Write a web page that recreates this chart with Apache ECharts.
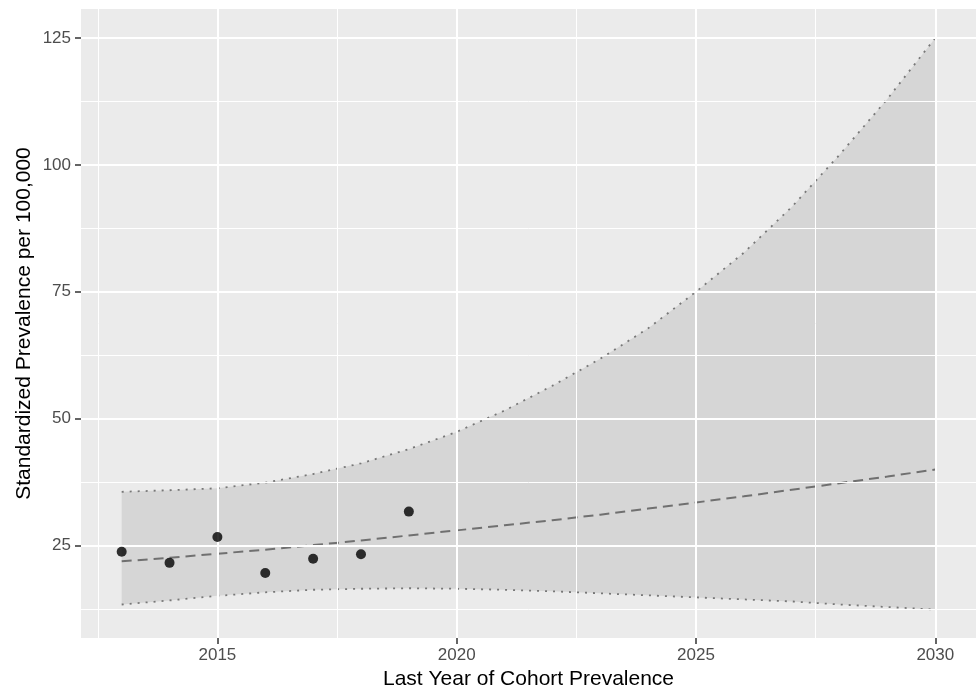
<!DOCTYPE html>
<html>
<head>
<meta charset="utf-8">
<script src="https://cdn.jsdelivr.net/npm/echarts@6/dist/echarts.min.js"></script>
<style>
  html, body { margin: 0; padding: 0; background: #ffffff; }
  #chart { width: 976px; height: 688px; }
</style>
</head>
<body>
<div id="chart"></div>
<script>
// observed cohort prevalence
const obsYears = [2013, 2014, 2015, 2016, 2017, 2018, 2019];
const obsValues = [23.8, 21.6, 26.7, 19.6, 22.4, 23.3, 31.7];

const projYears = [2013, 2014, 2015, 2016, 2017, 2018, 2019, 2020, 2021, 2022, 2023, 2024, 2025, 2026, 2027, 2028, 2029, 2030];
const fitValues = [21.9, 22.6, 23.4, 24.2, 25.1, 26.0, 27.0, 28.0, 29.0, 30.0, 31.1, 32.3, 33.5, 34.7, 36.0, 37.3, 38.6, 40.0];
const upperValues = [35.6, 35.9, 36.3, 37.4, 39.1, 41.2, 44.0, 47.4, 51.6, 56.5, 61.8, 67.8, 75.0, 82.7, 91.7, 102.0, 113.0, 125.0];
const lowerValues = [13.4, 14.2, 15.1, 15.8, 16.3, 16.5, 16.6, 16.5, 16.3, 16.0, 15.6, 15.2, 14.8, 14.4, 14.0, 13.4, 12.9, 12.4];

// ticks / gridlines
const xMajor = [2015, 2020, 2025, 2030];
const xMinor = [2012.5, 2017.5, 2022.5, 2027.5];
const yMajor = [25, 50, 75, 100, 125];
const yMinor = [12.5, 37.5, 62.5, 87.5, 112.5];

const font = "'Liberation Sans', Arial, Helvetica, sans-serif";
const pair = (xs, ys) => xs.map((x, i) => [x, ys[i]]);

const gridLine = (axis, value, width) => ({
  [axis]: value,
  lineStyle: {color: "#ffffff", width: width, type: "solid"},
});

const gridLines = [
  ...xMinor.map((v) => gridLine("xAxis", v, 1)),
  ...yMinor.map((v) => gridLine("yAxis", v, 1)),
  ...xMajor.map((v) => gridLine("xAxis", v, 2)),
  ...yMajor.map((v) => gridLine("yAxis", v, 2)),
];

// ribbon: one polygon, upper edge forward then lower edge back
const bandData = projYears.map((y, i) => [y, lowerValues[i], upperValues[i]]);

const renderBand = (params, api) => {
  if (params.dataIndex !== 0) return null;
  const top = bandData.map((d) => api.coord([d[0], d[2]]));
  const bottom = bandData.map((d) => api.coord([d[0], d[1]])).reverse();
  return {
    type: "polygon",
    shape: {points: top.concat(bottom)},
    style: {fill: "rgba(128,128,128,0.19)"},
    silent: true,
  };
};

const chart = echarts.init(document.getElementById("chart"), null, {renderer: "canvas"});

const option = {
  animation: false,
  backgroundColor: "#ffffff",
  textStyle: {fontFamily: font},
  grid: {
    left: 81, right: 0, top: 9, bottom: 50,
    outerBoundsMode: "none",
    containLabel: false,
    show: true, backgroundColor: "#EBEBEB", borderWidth: 0,
  },
  xAxis: {
    type: "value",
    min: 2012.15,
    max: 2030.85,
    name: "Last Year of Cohort Prevalence",
    nameLocation: "middle",
    nameGap: 28,
    nameTextStyle: {color: "#000000", fontSize: 21, fontFamily: font},
    axisLine: {show: false},
    axisTick: {show: true, length: 6, customValues: xMajor, lineStyle: {color: "#333333", width: 1.5}},
    axisLabel: {
      customValues: xMajor,
      margin: 9,
      color: "#4D4D4D",
      fontSize: 17,
      fontFamily: font,
      formatter: (v) => String(v),
    },
    splitLine: {show: false},
  },
  yAxis: {
    type: "value",
    min: 6.8,
    max: 130.7,
    name: "Standardized Prevalence per 100,000",
    nameLocation: "middle",
    nameGap: 46,
    nameMoveOverlap: false,
    nameTextStyle: {color: "#000000", fontSize: 21, fontFamily: font},
    axisLine: {show: false},
    axisTick: {show: true, length: 6, customValues: yMajor, lineStyle: {color: "#333333", width: 1.5}},
    axisLabel: {customValues: yMajor, margin: 10, color: "#4D4D4D", fontSize: 17, fontFamily: font},
    splitLine: {show: false},
  },
  series: [
    {
      // panel gridlines
      name: "grid",
      type: "line",
      data: [],
      silent: true,
      z: 1,
      markLine: {
        silent: true,
        symbol: "none",
        label: {show: false},
        data: gridLines,
      },
    },
    {
      name: "band",
      type: "custom",
      data: bandData,
      encode: {x: 0, y: [1, 2]},
      renderItem: renderBand,
      z: 2,
    },
    {
      name: "upper",
      type: "line",
      data: pair(projYears, upperValues),
      showSymbol: false,
      lineStyle: {color: "#777777", width: 1.8, type: [2, 6]},
      z: 3,
    },
    {
      name: "lower",
      type: "line",
      data: pair(projYears, lowerValues),
      showSymbol: false,
      lineStyle: {color: "#777777", width: 1.8, type: [2, 6]},
      z: 3,
    },
    {
      name: "fit",
      type: "line",
      data: pair(projYears, fitValues),
      showSymbol: false,
      lineStyle: {color: "#707070", width: 2, type: [10, 6]},
      z: 4,
    },
    {
      name: "observed",
      type: "scatter",
      data: pair(obsYears, obsValues),
      symbol: "circle",
      symbolSize: 10,
      itemStyle: {color: "#000000"},
      z: 5,
    },
  ],
};

chart.setOption(option);
</script>
</body>
</html>
